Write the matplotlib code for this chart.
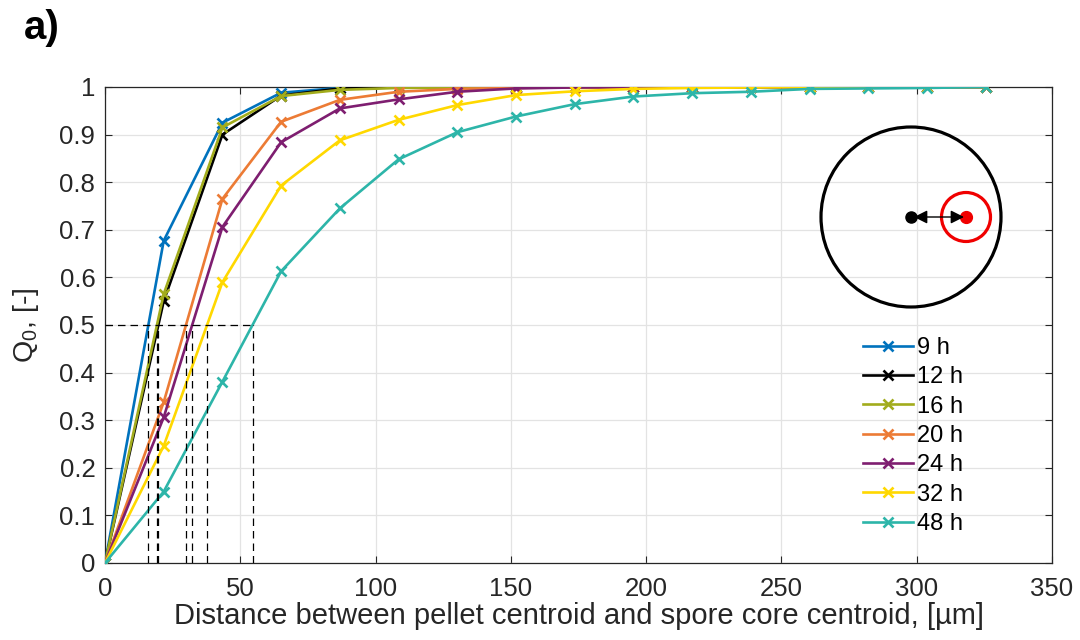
import numpy as np
import matplotlib
matplotlib.use("Agg")
import matplotlib.pyplot as plt
from matplotlib.patches import Circle

plt.rcParams['font.family'] = ['Liberation Sans', 'DejaVu Sans']
plt.rcParams['mathtext.fontset'] = 'custom'
plt.rcParams['mathtext.rm'] = 'Liberation Sans'
plt.rcParams['mathtext.it'] = 'Liberation Sans'

# Distance between pellet centroid and spore core centroid [µm]
distance = [0.0, 21.7, 43.4, 65.1, 86.8, 108.5, 130.2, 151.9, 173.6,
            195.3, 217.0, 238.7, 260.4, 282.1, 303.8, 325.5]

series_labels = ['9 h', '12 h', '16 h', '20 h', '24 h', '32 h', '48 h']

q_9h = [0, 0.677, 0.925, 0.988, 0.998, 1.0, 1.0, 1.0, 1.0, 1.0, 1.0, 1.0, 1.0, 1.0, 1.0, 1.0]
q_12h = [0, 0.550, 0.900, 0.982, 0.997, 0.999, 1.0, 1.0, 1.0, 1.0, 1.0, 1.0, 1.0, 1.0, 1.0, 1.0]
q_16h = [0, 0.565, 0.915, 0.981, 0.994, 0.998, 0.999, 1.0, 1.0, 1.0, 1.0, 1.0, 1.0, 1.0, 1.0, 1.0]
q_20h = [0, 0.338, 0.765, 0.927, 0.973, 0.990, 0.996, 0.998, 0.999, 1.0, 1.0, 1.0, 1.0, 1.0, 1.0, 1.0]
q_24h = [0, 0.306, 0.706, 0.884, 0.955, 0.974, 0.990, 0.997, 0.999, 1.0, 1.0, 1.0, 1.0, 1.0, 1.0, 1.0]
q_32h = [0, 0.246, 0.590, 0.793, 0.888, 0.931, 0.962, 0.983, 0.991, 0.996, 0.998, 0.999, 1.0, 1.0, 1.0, 1.0]
q_48h = [0, 0.150, 0.381, 0.613, 0.745, 0.848, 0.905, 0.938, 0.964, 0.980, 0.987, 0.990, 0.996, 0.997, 0.998, 1.0]

all_series = [q_9h, q_12h, q_16h, q_20h, q_24h, q_32h, q_48h]
colors = ['#0072BD', '#000000', '#A2AC1C', '#EC7B35', '#7E1E70', '#FFD800', '#2DB5A9']

fig = plt.figure(figsize=(10.8, 6.4), dpi=100)
ax = fig.add_axes([105 / 1080, 1 - 563 / 640, (1052 - 105) / 1080, (563 - 87) / 640])

for vals, col, lab in zip(all_series, colors, series_labels):
    ax.plot(distance, vals, color=col, lw=1.9, marker='x', ms=7.5, mew=1.9,
            label=lab, zorder=3)

# Median distance (Q0 = 0.5) of each series, by linear interpolation
half_points = [float(np.interp(0.5, vals, distance)) for vals in all_series]
dash = dict(color='k', lw=0.9, ls=(0, (6, 4)), zorder=4)
for xh in half_points:
    ax.plot([xh, xh], [0, 0.5], **dash)
ax.plot([0, max(half_points)], [0.5, 0.5], **dash)

ax.set_xlim(0, 350)
ax.set_ylim(0, 1)
ax.set_xticks(np.arange(0, 351, 50))
ax.set_yticks(np.round(np.arange(0, 1.01, 0.1), 1))
ax.set_yticklabels(['0', '0.1', '0.2', '0.3', '0.4', '0.5', '0.6', '0.7', '0.8', '0.9', '1'])
ax.grid(True, color='#E3E3E3', lw=0.9, zorder=0)
ax.set_axisbelow(True)
ax.tick_params(direction='in', length=5, width=0.8, top=True, right=True,
               labelsize=18.5, colors='#262626')
ax.tick_params(axis='x', pad=10)
ax.tick_params(axis='y', pad=7)
for sp in ax.spines.values():
    sp.set_color('#262626')
    sp.set_linewidth(0.9)

ax.set_xlabel('Distance between pellet centroid and spore core centroid, [µm]',
              fontsize=21, color='#262626', labelpad=1)
ax.set_ylabel(r'Q$_\mathregular{0}$, [-]', fontsize=20.5, color='#262626', labelpad=13)

leg = ax.legend(loc='upper left', bbox_to_anchor=((863 - 105) / 947, (563 - 337) / 476),
                frameon=False, fontsize=17, handlelength=2.1, handletextpad=0.2,
                labelspacing=0.31, borderaxespad=0, borderpad=0)

fig.text(0.022, 0.957, 'a)', fontsize=29, fontweight='bold', va='center')

# Schematic: pellet with off-centre spore core
ins = fig.add_axes([(911 - 96) / 1080, 1 - (217 + 96) / 640, 192 / 1080, 192 / 640])
ins.set_xlim(-96, 96)
ins.set_ylim(-96, 96)
ins.set_aspect('equal')
ins.axis('off')
ins.patch.set_alpha(0)
ins.add_patch(Circle((0, 0), 90, fill=False, ec='k', lw=2.3))
ins.add_patch(Circle((55, 0), 24.5, fill=False, ec='#F00000', lw=2.3))
ins.plot([0], [0], 'o', color='k', ms=8)
ins.plot([55], [0], 'o', color='#F00000', ms=8.5)
ins.annotate('', xy=(53, 0), xytext=(3, 0),
             arrowprops=dict(arrowstyle='<|-|>', color='k', lw=1.0,
                             mutation_scale=20, shrinkA=0, shrinkB=0))

fig.savefig('out.png', dpi=100, facecolor='white')
